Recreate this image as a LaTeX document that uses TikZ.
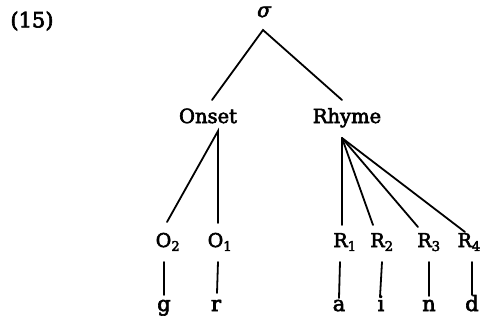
\documentclass[tikz,border=0pt]{standalone}
\usepackage{fontspec}
\setmainfont{DejaVu Serif}
\newfontfamily\heavy[FakeBold=3]{DejaVu Serif}
\begin{document}
\begin{tikzpicture}[x=1pt,y=-1pt,
  big/.style={font=\heavy\fontsize{19.5}{22}\selectfont,inner sep=0pt,anchor=base},
  lab/.style={font=\heavy\fontsize{19}{22}\selectfont,inner sep=0pt,anchor=base},
  leaf/.style={font=\heavy\fontsize{21}{24}\selectfont,inner sep=0pt,anchor=base},
  branch/.style={line width=1.8pt,line cap=round}]
\useasboundingbox (0,0) rectangle (482,322);
% labels
\node[font=\heavy\fontsize{21}{24}\selectfont,inner sep=0pt] (num) at (32,21) {(15)};
\node[font=\heavy\itshape\fontsize{20}{22}\selectfont,inner sep=0pt] (sigma) at (264,12) {σ};
\node[big] (onset) at (208,123) {Onset};
\node[big] (rhyme) at (347,123) {Rhyme};
\node[lab] (O2) at (168,247) {O\textsubscript{2}};
\node[lab] (O1) at (220,247) {O\textsubscript{1}};
\node[lab] (R1) at (345,247) {R\textsubscript{1}};
\node[lab] (R2) at (382,247) {R\textsubscript{2}};
\node[lab] (R3) at (429,247) {R\textsubscript{3}};
\node[lab,anchor=base east] (R4) at (481,247) {R\textsubscript{4}};
\node[leaf] (g) at (164,311) {g};
\node[leaf] (r) at (216,311) {r};
\node[leaf] (a) at (339,311) {a};
\node[leaf] (i) at (381,311) {i};
\node[leaf] (n) at (429,311) {n};
\node[leaf] (d) at (472,311) {d};
% attachment points
\coordinate (sigB) at (263,30);
\coordinate (onT) at (212,100);
\coordinate (rhT) at (342,100);
\coordinate (onB) at (218,131);
\coordinate (rhB) at (342,138);
\coordinate (O2T) at (167,222);
\coordinate (O1T) at (218,223);
\coordinate (R1T) at (342,225);
\coordinate (R2T) at (373,225);
\coordinate (R3T) at (418,227);
\coordinate (R4T) at (465,232);
\coordinate (O2B) at (164,262); \coordinate (gT) at (164,295);
\coordinate (O1B) at (218,262); \coordinate (rT) at (217,293);
\coordinate (R1B) at (340,262); \coordinate (aT) at (339,298);
\coordinate (R2B) at (382,262); \coordinate (iT) at (380,297);
\coordinate (R3B) at (429,262); \coordinate (nT) at (429,296);
\coordinate (R4B) at (472,262); \coordinate (dT) at (472,295);
% connectors
\draw[branch] (onT) -- (sigB) -- (rhT);
\draw[branch] (O2T) -- (onB) -- (O1T);
\draw[branch] (rhB) -- (R1T);
\draw[branch] (rhB) -- (R2T);
\draw[branch] (rhB) -- (R3T);
\draw[branch] (rhB) -- (R4T);
\draw[branch] (O2B) -- (gT);
\draw[branch] (O1B) -- (rT);
\draw[branch] (R1B) -- (aT);
\draw[branch] (R2B) -- (iT);
\draw[branch] (R3B) -- (nT);
\draw[branch] (R4B) -- (dT);
\end{tikzpicture}
\end{document}
